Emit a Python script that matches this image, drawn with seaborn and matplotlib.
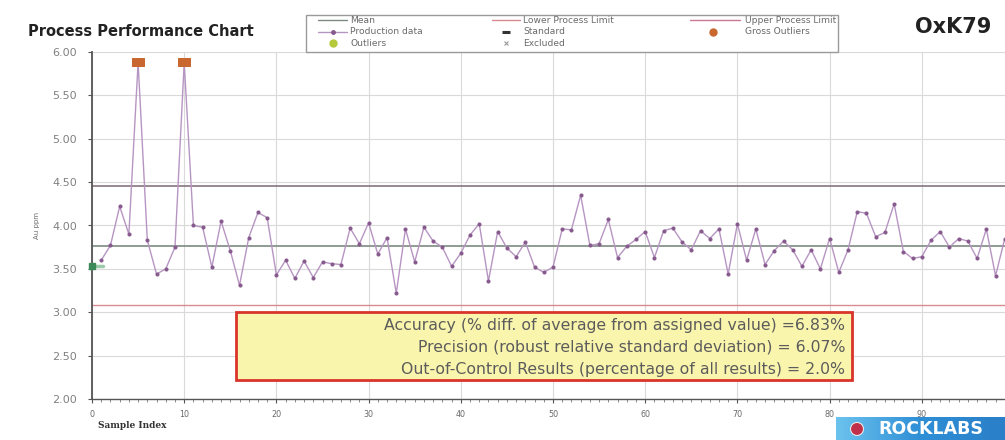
import matplotlib
matplotlib.use("Agg")
import matplotlib.pyplot as plt
from matplotlib.lines import Line2D
from matplotlib.patches import Rectangle, Ellipse
from matplotlib.colors import LinearSegmentedColormap
from matplotlib.ticker import MultipleLocator, FixedLocator, FormatStrFormatter
import numpy as np
import seaborn as sns
import pandas as pd

# ---- data -------------------------------------------------------------
production_values = [
    3.60, 3.77, 4.22, 3.90, 5.88, 3.83, 3.44, 3.50, 3.75, 5.88,
    4.00, 3.98, 3.52, 4.05, 3.71, 3.31, 3.86, 4.15, 4.09, 3.43,
    3.60, 3.39, 3.59, 3.40, 3.58, 3.56, 3.55, 3.97, 3.79, 4.03,
    3.67, 3.86, 3.22, 3.96, 3.58, 3.98, 3.82, 3.75, 3.53, 3.68,
    3.89, 4.02, 3.36, 3.93, 3.74, 3.64, 3.81, 3.52, 3.46, 3.52,
    3.96, 3.95, 4.35, 3.77, 3.79, 4.07, 3.63, 3.76, 3.84, 3.93,
    3.63, 3.94, 3.97, 3.81, 3.72, 3.94, 3.85, 3.96, 3.44, 4.02,
    3.60, 3.96, 3.55, 3.71, 3.82, 3.72, 3.53, 3.72, 3.50, 3.85,
    3.46, 3.72, 4.16, 4.14, 3.87, 3.92, 4.25, 3.70, 3.62, 3.64,
    3.83, 3.93, 3.75, 3.85, 3.82, 3.62, 3.96, 3.42, 3.85,
]
sample_index = list(range(1, len(production_values) + 1))

gross_outlier_index = [5, 10]
gross_outlier_values = [5.88, 5.88]

standard_value = 3.53
mean_value = 3.76
lower_limit = 3.08
upper_limit = 4.46

x_ticks = [0, 10, 20, 30, 40, 50, 60, 70, 80, 90]

stats_lines = [
    "Accuracy (% diff. of average from assigned value) =6.83%",
    "Precision (robust relative standard deviation) = 6.07%",
    "Out-of-Control Results (percentage of all results) = 2.0%",
]

legend_labels = [
    ["Mean", "Lower Process Limit", "Upper Process Limit"],
    ["Production data", "Standard", "Gross Outliers"],
    ["Outliers", "Excluded", None],
]

df = pd.DataFrame({"Sample Index": sample_index, "value": production_values})
df_gross = pd.DataFrame({"Sample Index": gross_outlier_index, "value": gross_outlier_values})

# ---- styling ------------------------------------------------------------
sns.set_style("white")
plt.rcParams["font.family"] = ["DejaVu Sans"]

C_PROD = "#b795c2"
C_PROD_DOT = "#875a8e"
C_MEAN = "#7d8a80"
C_LOWER = "#d98a8f"
C_UPPER = "#857680"
C_GROSS = "#c8672f"
C_STD = "#3c8a5a"
C_GRID = "#dadada"
C_TXT = "#6a6a6a"

W, H = 1005, 440
fig = plt.figure(figsize=(W / 100, H / 100), dpi=100)


def fx(px):
    return px / W


def fy(py):
    return 1 - py / H


# axes extend past the right figure edge (chart is cut off on the right)
ax = fig.add_axes([fx(92), 41 / H, 922 / W, 347 / H])

# reference lines
ax.axhline(upper_limit, color=C_UPPER, lw=1.2, zorder=2)
ax.axhline(mean_value, color=C_MEAN, lw=1.2, zorder=2)
ax.axhline(lower_limit, color=C_LOWER, lw=1.0, zorder=2)

# production data
sns.lineplot(data=df, x="Sample Index", y="value", ax=ax, color=C_PROD, lw=1.0,
             marker="o", markersize=2.2, markerfacecolor=C_PROD_DOT,
             markeredgecolor=C_PROD_DOT, zorder=3, legend=False)

# gross outliers (wide squares)
wide_box = [(-1.4, -1), (1.4, -1), (1.4, 1), (-1.4, 1), (-1.4, -1)]
sns.scatterplot(data=df_gross, x="Sample Index", y="value", ax=ax, marker=wide_box,
                s=80, color=C_GROSS, edgecolor=C_GROSS, zorder=5, legend=False)

# standard value marker at sample 0
ax.plot([0, 1.2], [standard_value, standard_value], color="#9cc9a8", lw=2.5,
        zorder=4, clip_on=False)
ax.plot([0], [standard_value], marker="s", markersize=5, color=C_STD,
        zorder=6, clip_on=False)

# axes
ax.set_xlim(0, 100)
ax.set_ylim(2.0, 6.0)
ax.xaxis.set_major_locator(FixedLocator(x_ticks))
ax.xaxis.set_minor_locator(MultipleLocator(1))
ax.yaxis.set_major_locator(MultipleLocator(0.5))
ax.yaxis.set_major_formatter(FormatStrFormatter("%.2f"))
ax.grid(True, which="major", color=C_GRID, lw=0.8)
ax.set_axisbelow(True)
for side in ("top", "right"):
    ax.spines[side].set_visible(False)
ax.spines["left"].set_color("#555555")
ax.spines["bottom"].set_color("#555555")
ax.spines["left"].set_linewidth(1.3)
ax.spines["bottom"].set_linewidth(1.0)
ax.tick_params(axis="y", which="major", labelsize=8.0, labelcolor="#808080",
               length=3, color="#555555", left=True, pad=8)
ax.tick_params(axis="x", which="major", labelsize=5.8, labelcolor=C_TXT,
               length=3, color="#555555", bottom=True, pad=5)
ax.tick_params(axis="x", which="minor", length=2, color="#777777", bottom=True)

ax.set_xlabel("Sample Index", fontsize=6.5, fontweight="bold", family="DejaVu Serif",
              color="#333333", ha="left")
ax.xaxis.set_label_coords(6 / 922, -0.062)
ax.set_ylabel("Au ppm", fontsize=5, color=C_TXT)
ax.yaxis.set_label_coords(-52 / 922, 0.5)

# statistics box
box = Rectangle((fx(236), fy(380)), (852 - 236) / W, (380 - 312) / H,
                transform=fig.transFigure, facecolor="#faf5ad", edgecolor="#d9342b",
                lw=2.0, zorder=10)
fig.patches.append(box)
for k, line in enumerate(stats_lines):
    fig.text(fx(845), fy(325 + 22 * k), line, ha="right", va="center",
             fontsize=11.3, color="#5c5c5c", zorder=11)

# titles
fig.text(fx(28), fy(32), "Process Performance Chart", fontsize=10.5,
         fontweight="bold", color="#222222", va="center", ha="left")
fig.text(fx(915), fy(27), "OxK79", fontsize=15, fontweight="bold",
         color="#222222", va="center", ha="left")

# legend, laid out as a 3 x 3 grid inside a thin frame
fig.patches.append(Rectangle((fx(306), fy(52)), (838 - 306) / W, (52 - 15) / H,
                             transform=fig.transFigure, facecolor="white",
                             edgecolor="#9a9a9a", lw=1.0, zorder=8))
col_handle = [(318, 347), (492, 520), (690, 740)]
col_text = [350, 523, 745]
row_y = [20.5, 32, 43.5]
handle_style = {
    "Mean": dict(kind="line", color=C_MEAN),
    "Lower Process Limit": dict(kind="line", color=C_LOWER),
    "Upper Process Limit": dict(kind="line", color="#c87a90"),
    "Production data": dict(kind="line", color=C_PROD, marker="o", ms=2.5,
                            mfc=C_PROD_DOT),
    "Standard": dict(kind="mark", marker="_", ms=6, mew=2.2, color="#333333"),
    "Gross Outliers": dict(kind="mark", marker="o", ms=5, color=C_GROSS),
    "Outliers": dict(kind="mark", marker="o", ms=5, color="#b5c93a"),
    "Excluded": dict(kind="mark", marker="x", ms=3.2, mew=0.8, color="#999999"),
}
for r, row in enumerate(legend_labels):
    for c, label in enumerate(row):
        if label is None:
            continue
        st = handle_style[label]
        x0, x1 = col_handle[c]
        y = fy(row_y[r])
        if st["kind"] == "line":
            kw = {}
            if "marker" in st:
                kw = dict(marker=st["marker"], markersize=st["ms"],
                          markerfacecolor=st["mfc"], markeredgecolor=st["mfc"],
                          markevery=[1])
            fig.add_artist(Line2D([fx(x0), fx((x0 + x1) / 2), fx(x1)], [y, y, y],
                                  transform=fig.transFigure, color=st["color"],
                                  lw=1.0, zorder=9, **kw))
        else:
            xm = (x0 + x1) / 2 if c != 2 else 713
            fig.add_artist(Line2D([fx(xm)], [y], transform=fig.transFigure, ls="none",
                                  marker=st["marker"], markersize=st["ms"],
                                  markeredgewidth=st.get("mew", 1.0),
                                  color=st["color"], zorder=9))
        fig.text(fx(col_text[c]), y, label, fontsize=6.6, color=C_TXT,
                 va="center", ha="left", zorder=9)

# company badge in the lower right corner (blue gradient strip)
badge_w, badge_h = W - 836, 23
bax = fig.add_axes([fx(836), 0, badge_w / W, badge_h / H])
bax.set_zorder(10)
blue = LinearSegmentedColormap.from_list("badge", ["#6cc3ee", "#2f8fd6", "#2a7fc8"])
bax.imshow(np.linspace(0, 1, 256)[None, :], cmap=blue, aspect="auto",
           extent=(0, 1, 0, 1))
bax.set_xlim(0, 1)
bax.set_ylim(0, 1)
bax.axis("off")
bax.add_patch(Ellipse((21 / badge_w, 0.48), 13 / badge_w, 13 / badge_h,
                      transform=bax.transAxes, facecolor="#c0304a",
                      edgecolor="#e8e8e8", lw=0.8, zorder=3))
bax.text(0.25, 0.48, "ROCKLABS", fontsize=12.5, fontweight="bold",
         color="white", va="center", ha="left", zorder=4)

fig.savefig("out.png", dpi=100)
